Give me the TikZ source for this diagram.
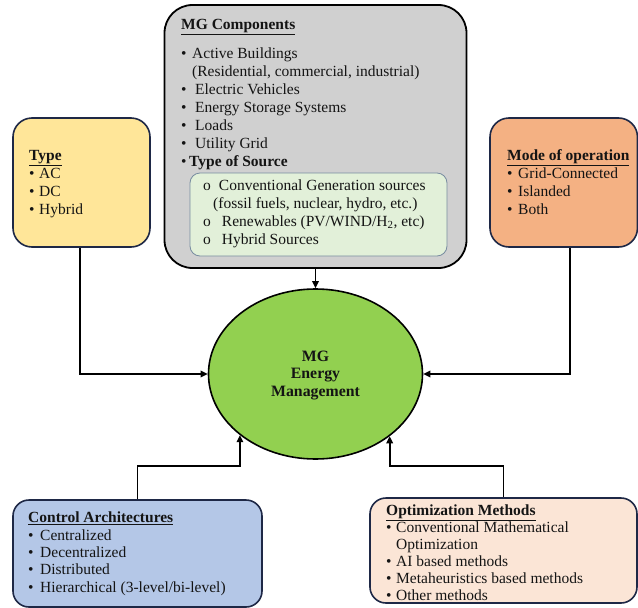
\documentclass[tikz,border=0pt]{standalone}
\usepackage{fontspec}
\setmainfont{Liberation Serif}
\usetikzlibrary{shapes.geometric,arrows.meta}
\definecolor{navy}{RGB}{30,40,70}
\definecolor{ink}{RGB}{20,20,20}
\definecolor{grayfill}{RGB}{208,208,208}
\definecolor{innerfill}{RGB}{226,240,217}
\definecolor{innerline}{RGB}{120,140,160}
\definecolor{typefill}{RGB}{255,230,153}
\definecolor{modefill}{RGB}{244,177,131}
\definecolor{ctrlfill}{RGB}{180,199,231}
\definecolor{optfill}{RGB}{251,229,214}
\definecolor{mgfill}{RGB}{146,208,80}
\begin{document}
\begin{tikzpicture}[x=1pt,y=-1pt,
  panel/.style={draw=navy, line width=1.6pt, inner sep=0pt},
  txt/.style={anchor=base west, align=left, inner sep=0pt, text=ink, font=\fontsize{15.5}{#1}\selectfont},
  txt/.default=18,
  arr/.style={draw=black, line width=1.7pt, -{Triangle[length=7pt,width=6.5pt]}}]
\useasboundingbox (0,0) rectangle (638,608);
\newcommand{\bl}[1][13pt]{\makebox[#1][l]{\textbullet}}
% boxes
\node[panel, draw=black, line width=1.8pt, fill=grayfill, rounded corners=28pt,
      minimum width=302pt, minimum height=263pt] (comp) at (315.5,136.5) {};
\node[draw=innerline, line width=0.8pt, fill=innerfill, rounded corners=10pt, inner sep=0pt,
      minimum width=257pt, minimum height=83pt] (inner) at (318.5,214.5) {};
\node[panel, fill=typefill, rounded corners=19pt, minimum width=137pt, minimum height=129pt] (type) at (81.5,182.5) {};
\node[panel, fill=modefill, rounded corners=19pt, minimum width=147.5pt, minimum height=129pt] (mode) at (563.75,182.5) {};
\node[panel, fill=ctrlfill, rounded corners=16pt, minimum width=249pt, minimum height=107pt] (ctrl) at (137.5,553.5) {};
\node[panel, fill=optfill, rounded corners=16pt, minimum width=267pt, minimum height=105pt] (opt) at (503.5,550.5) {};
\node[ellipse, draw=black, line width=1.6pt, fill=mgfill, inner sep=0pt,
      minimum width=214pt, minimum height=170pt] (mg) at (315.5,374) {};
% texts (anchored at the baseline of their last line)
\node[txt] (comptxt) at (181,166) {\underline{\textbf{MG Components}}\\[10.5pt]
\bl[11pt]Active Buildings\\
\hspace*{11pt}(Residential, commercial, industrial)\\
\bl[14pt]Electric Vehicles\\
\bl[14pt]Energy Storage Systems\\
\bl[14pt]Loads\\
\bl[14pt]Utility Grid\\
\bl[8pt]\textbf{Type of Source}};
\node[txt=17.7] (innertxt) at (203,244) {o\hspace{8pt}Conventional Generation sources\\
\hspace*{10pt}(fossil fuels, nuclear, hydro, etc.)\\
o\hspace{11pt}Renewables (PV/WIND/H\textsubscript{2}, etc)\\
o\hspace{11pt}Hybrid Sources};
\node[txt] (typetxt) at (29,214) {\underline{\textbf{Type}}\\
\bl[10pt]AC\\ \bl[10pt]DC\\ \bl[10pt]Hybrid};
\node[txt] (modetxt) at (507,214) {\underline{\textbf{Mode of operation}}\\
\bl[11pt]Grid-Connected\\ \bl[11pt]Islanded\\ \bl[11pt]Both};
\node[txt=17.3] (ctrltxt) at (28,592) {\underline{\textbf{Control Architectures}}\\
\bl[12pt]Centralized\\ \bl[12pt]Decentralized\\ \bl[12pt]Distributed\\ \bl[12pt]Hierarchical (3-level/bi-level)};
\node[txt=17] (opttxt) at (386,600) {\underline{\textbf{Optimization Methods}}\\
\bl[10pt]Conventional Mathematical\\
\hspace*{10pt}Optimization\\
\bl[10pt]AI based methods\\
\bl[10pt]Metaheuristics based methods\\
\bl[10pt]Other methods};
\node[anchor=base, align=center, inner sep=0pt, text=ink, font=\fontsize{15.8}{17.5}\selectfont\bfseries] (mgtxt) at (315.5,396) {MG\\ Energy\\ Management};
% connectors
\draw[arr] (comp.south) -- (mg.north);
\draw[arr] ([xshift=-1.5pt]type.south) |- (mg.west);
\draw[arr] ([xshift=6pt]mode.south) |- (mg.east);
\draw[arr] (ctrl.north) -- ++(0,-33) -| (mg.219);
\draw[arr] (opt.north) -- ++(0,-31) -| (mg.-40);
\end{tikzpicture}
\end{document}
